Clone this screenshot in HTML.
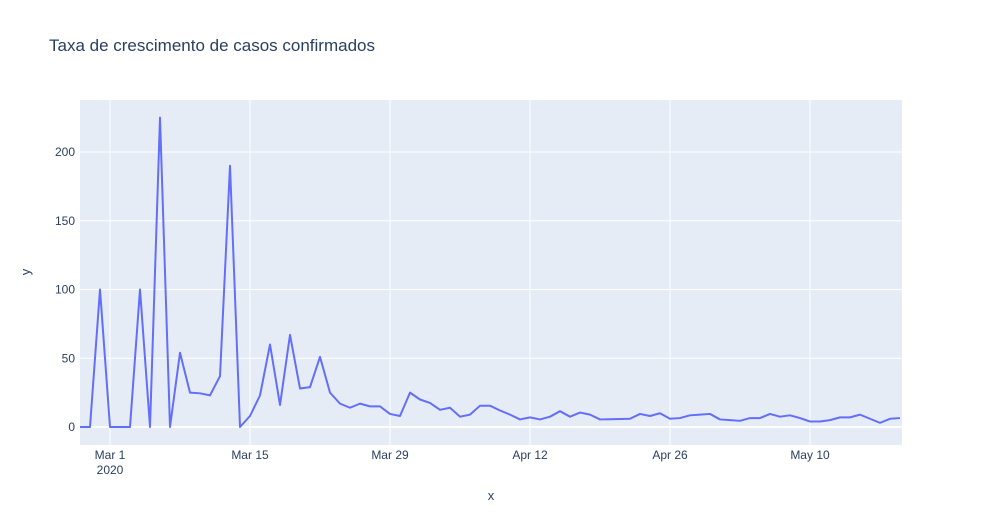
<!DOCTYPE html>
<html><head><meta charset="utf-8"><style>
body{margin:0;background:#fff;font-family:"Liberation Sans",Arial,sans-serif}
svg text{font-family:"Liberation Sans",Arial,sans-serif}
</style></head><body>
<svg id="chart" width="981" height="525">
<defs><clipPath id="clip"><rect x="80" y="100" width="822" height="345"/></clipPath></defs>
<rect width="981" height="525" fill="#fff"/>
<text x="49" y="51" font-size="17" fill="#2a3f5f">Taxa de crescimento de casos confirmados</text>
<rect x="80" y="100" width="822" height="345" fill="#e5ecf6"/>
<g id="grid"></g><g id="ticks"></g>
<text x="491" y="500" font-size="13" fill="#2a3f5f" text-anchor="middle">x</text>
<text x="30" y="272" font-size="13" fill="#2a3f5f" text-anchor="middle" transform="rotate(-90 30 272)">y</text>
<path id="line" clip-path="url(#clip)" fill="none" stroke="#636efa" stroke-width="2" stroke-linejoin="round"/>
</svg>
<script>
const startDate = "2020-02-26";
const values = [0,0,100,0,0,0,100,0,225,0,54,25,24.5,23,37,190,0,8,23,60,16,67,28,29,51,25,17,14,17,15,15,9.5,8,25,20,17.5,12.5,14,7.5,9,15.5,15.5,12,9,5.5,7,5.5,7.5,11.5,7.5,10.5,9,5.5,5.6,5.8,6,9.5,8,10,6,6.5,8.5,9,9.5,5.5,5,4.5,6.5,6.5,9.5,7.5,8.5,6.5,4,4,5,7,7,9,6,3,6,6.5];
const yTicks = [0,50,100,150,200];
const xTickLabels = ["Mar 1","Mar 15","Mar 29","Apr 12","Apr 26","May 10"];
const xTickDays = [3,17,31,45,59,73];
const ns="http://www.w3.org/2000/svg";
const x=d=>80+d*10, y=v=>427-v*1.375;
const grid=document.getElementById('grid'), ticks=document.getElementById('ticks');
function mk(tag,attrs,parent){const e=document.createElementNS(ns,tag);for(const k in attrs)e.setAttribute(k,attrs[k]);parent.appendChild(e);return e;}
yTicks.forEach(t=>{
  const l=mk('line',{x1:80,x2:902,y1:y(t),y2:y(t),stroke:'#fff','stroke-width':t===0?2:1},grid);
  
  
  const tx=mk('text',{x:75,y:y(t)+4,'font-size':12,fill:'#2a3f5f','text-anchor':'end'},ticks);
  tx.textContent=t;
  
  
});
xTickDays.forEach((d,i)=>{
  const l=mk('line',{x1:x(d),x2:x(d),y1:100,y2:445,stroke:'#fff','stroke-width':1},grid);
  
  
  const tx=mk('text',{x:x(d),y:459,'font-size':12,fill:'#2a3f5f','text-anchor':'middle'},ticks);
  tx.textContent=xTickLabels[i];
  
  
});
const yr=mk('text',{x:x(3),y:474,'font-size':12,fill:'#2a3f5f','text-anchor':'middle'},ticks);
yr.textContent='2020';


document.getElementById('line').setAttribute('d',values.map((v,i)=>(i?'L':'M')+x(i)+','+y(v)).join(''));
</script>
</body></html>
